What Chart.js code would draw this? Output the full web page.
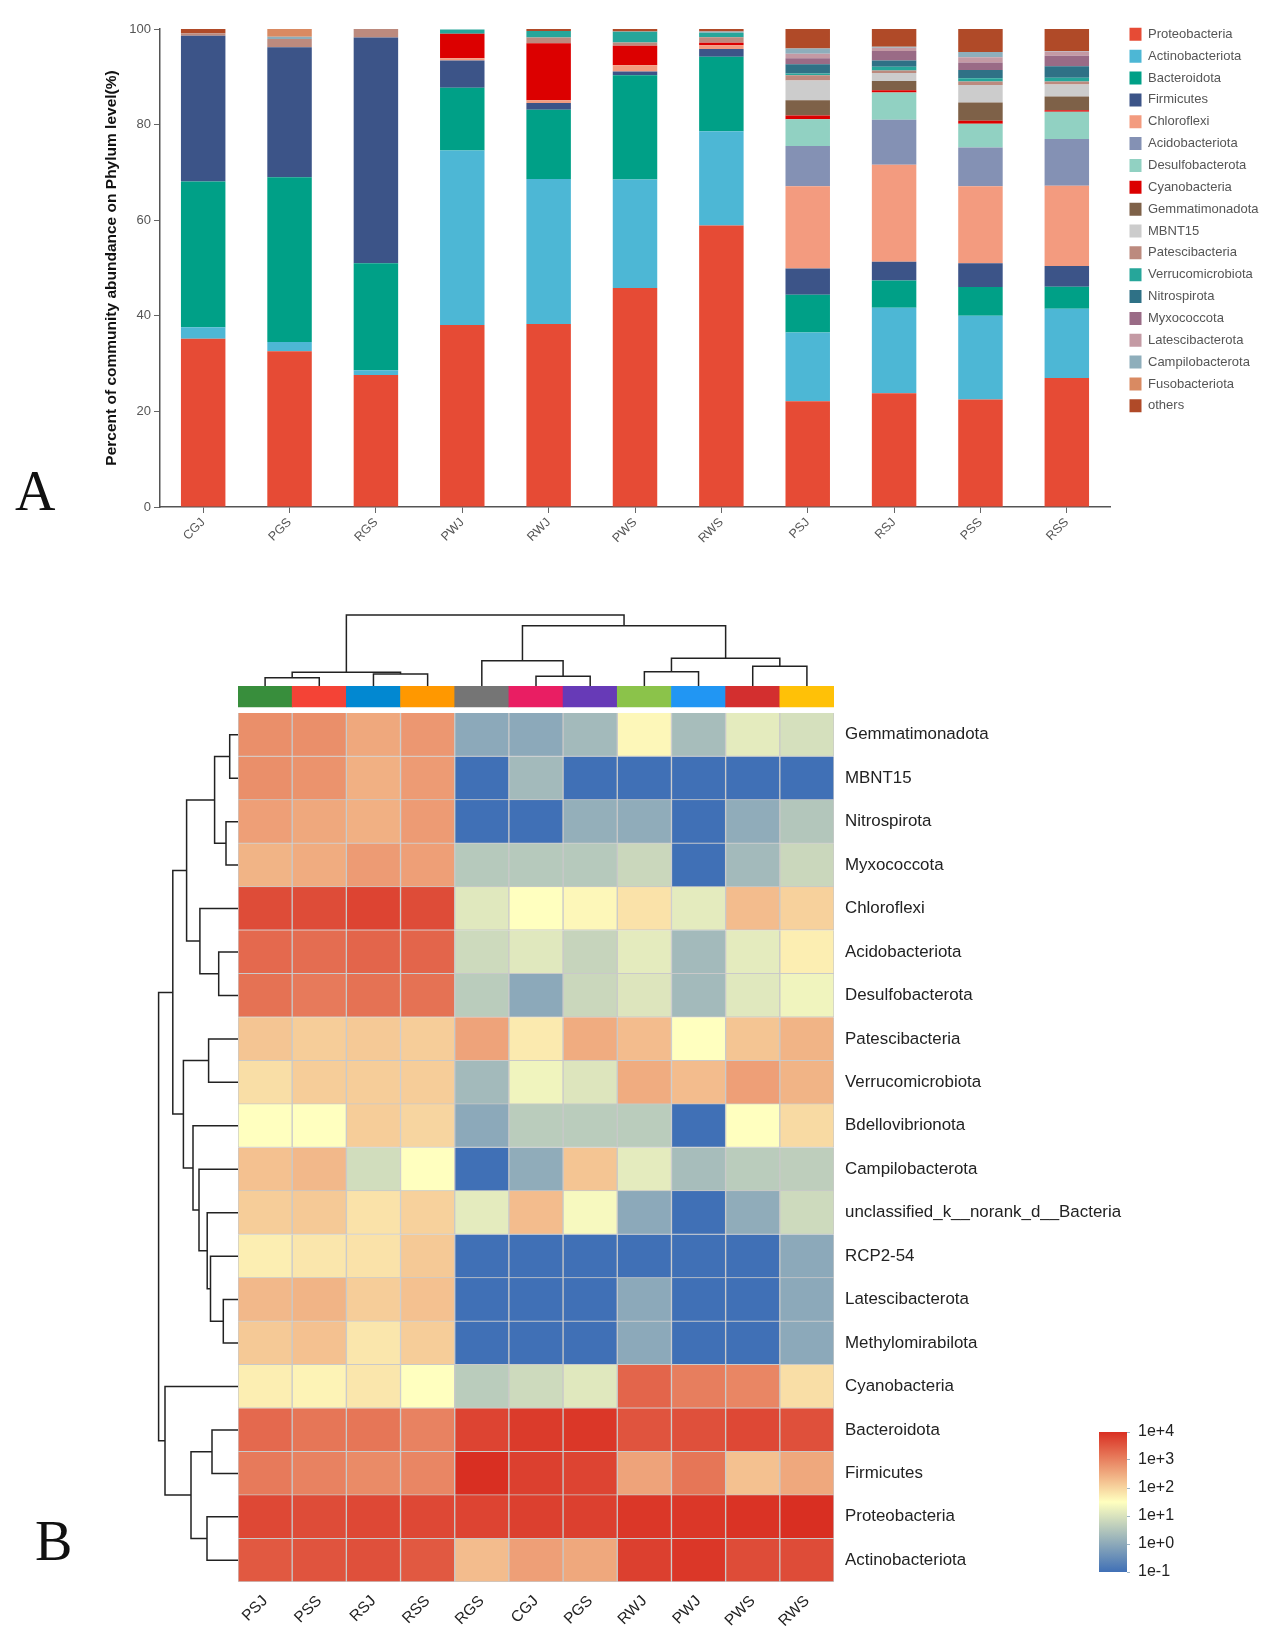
<!DOCTYPE html>
<html><head><meta charset="utf-8">
<script src="https://cdn.jsdelivr.net/npm/chart.js@4"></script>
<style>
html,body{margin:0;padding:0;background:#fff;width:1266px;height:1637px;overflow:hidden}
canvas{position:absolute;display:block}
.tag{position:absolute;font-family:"Liberation Serif",serif;font-size:56px;line-height:56px;color:#111}
</style></head><body>
<div class="tag" style="left:15px;top:463px">A</div>
<div class="tag" style="left:35px;top:1513px">B</div>
<canvas id="bars" width="1266" height="560" style="left:0;top:0"></canvas>
<canvas id="dTop" width="596" height="80" style="left:238px;top:606px"></canvas>
<canvas id="dLeft" width="90" height="869" style="left:148px;top:713px"></canvas>
<canvas id="heat" width="1058" height="951" style="left:208px;top:686px"></canvas>
<canvas id="cbar" width="110" height="162" style="left:1099px;top:1420px"></canvas>
<script>
const FONT='"Liberation Sans", Arial, sans-serif';
// ---------- Panel A ----------
const samplesA=['CGJ','PGS','RGS','PWJ','RWJ','PWS','RWS','PSJ','RSJ','PSS','RSS'];
const Proteobacteria=[35.2,32.6,27.6,38.1,38.3,45.8,58.9,22.1,23.8,22.5,27.0];
const Actinobacteriota=[2.4,1.9,1.0,36.5,30.3,22.7,19.7,14.4,17.9,17.5,14.5];
const Bacteroidota=[30.5,34.5,22.4,13.1,14.5,21.8,15.6,7.9,5.7,6.0,4.6];
const Firmicutes=[30.5,27.2,47.2,5.7,1.4,0.8,1.6,5.5,3.9,5.0,4.3];
const Chloroflexi=[0,0,0,0.5,0.6,1.3,0.8,17.2,20.3,16.1,16.8];
const Acidobacteriota=[0,0,0,0,0,0,0,8.4,9.4,8.1,9.8];
const Desulfobacterota=[0,0,0,0,0,0,0,5.6,5.7,5.0,5.7];
const Cyanobacteria=[0,0,0,5.1,11.9,4.1,0.5,0.8,0.5,0.6,0.3];
const Gemmatimonadota=[0,0,0,0,0,0,0,3.2,1.9,3.8,2.9];
const MBNT15=[0,0,0,0,0,0,0,4.1,1.7,3.7,2.5];
const Patescibacteria=[0.5,1.7,1.9,0,1.2,0.7,1.2,1.1,0.5,0.7,0.6];
const Verrucomicrobiota=[0,0,0,0.9,1.4,2.2,0.9,0.4,0.8,0.7,0.8];
const Nitrospirota=[0,0,0,0,0,0,0,1.9,1.3,1.7,2.4];
const Myxococcota=[0,0,0,0,0,0,0,1.3,2.0,1.6,2.2];
const Latescibacterota=[0,0,0,0,0,0,0,0.9,0.7,1.1,0.9];
const Campilobacterota=[0,0.5,0,0,0,0.1,0.3,1.1,0.2,1.1,0.1];
const Fusobacteriota=[0,1.6,0,0,0,0,0,0,0,0,0];
const others=[0.9,0.2,0,0,0.4,0.5,0.5,4.1,3.9,4.8,4.6];
const phylaNames=['Proteobacteria','Actinobacteriota','Bacteroidota','Firmicutes','Chloroflexi','Acidobacteriota','Desulfobacterota','Cyanobacteria','Gemmatimonadota','MBNT15','Patescibacteria','Verrucomicrobiota','Nitrospirota','Myxococcota','Latescibacterota','Campilobacterota','Fusobacteriota','others'];
const phylaValues=[Proteobacteria,Actinobacteriota,Bacteroidota,Firmicutes,Chloroflexi,Acidobacteriota,Desulfobacterota,Cyanobacteria,Gemmatimonadota,MBNT15,Patescibacteria,Verrucomicrobiota,Nitrospirota,Myxococcota,Latescibacterota,Campilobacterota,Fusobacteriota,others];
const phylaColors=['#e64b35','#4db7d5','#00a087','#3c5488','#f39b7f','#8491b4','#91d1c2','#dc0000','#7e6148','#cccccc','#bc8a7e','#26a69a','#2f7186','#9a6b86','#c49aa4','#8eaebb','#d98a62','#b04a28'];
const yTicksA=[0,20,40,60,80,100];

// ---------- Panel B ----------
const samplesB=['PSJ','PSS','RSJ','RSS','RGS','CGJ','PGS','RWJ','PWJ','PWS','RWS'];
const sampleColors=['#388e3c','#f44336','#0288d1','#ff9800','#757575','#e91e63','#673ab7','#8bc34a','#2196f3','#d32f2f','#ffc107'];
const rowNames=['Gemmatimonadota','MBNT15','Nitrospirota','Myxococcota','Chloroflexi','Acidobacteriota','Desulfobacterota','Patescibacteria','Verrucomicrobiota','Bdellovibrionota','Campilobacterota','unclassified_k__norank_d__Bacteria','RCP2-54','Latescibacterota','Methylomirabilota','Cyanobacteria','Bacteroidota','Firmicutes','Proteobacteria','Actinobacteriota'];
// log10 abundance of every heat-map cell, one line per row
const heatLog10=[
[2.85,2.85,2.55,2.75,0,0,0.3,1.6,0.35,1.15,0.95],
[2.85,2.8,2.45,2.7,-1,0.3,-1,-1,-1,-1,-1],
[2.65,2.55,2.45,2.7,-1,-1,0.1,0.05,-1,0.05,0.5],
[2.4,2.5,2.7,2.65,0.55,0.55,0.55,0.8,-1,0.3,0.8],
[3.65,3.65,3.75,3.65,1.1,1.5,1.6,1.85,1.15,2.3,2.05],
[3.3,3.25,3.35,3.35,0.85,1.1,0.75,1.15,0.3,1.15,1.7],
[3.2,3.1,3.2,3.2,0.6,0,0.8,1.05,0.3,1.1,1.3],
[2.2,2.1,2.15,2.1,2.6,1.75,2.5,2.3,1.5,2.2,2.4],
[1.9,2.1,2.1,2.1,0.3,1.3,1.05,2.5,2.3,2.65,2.4],
[1.5,1.5,2.1,2.0,0,0.6,0.6,0.6,-1,1.5,1.95],
[2.25,2.35,0.9,1.5,-1,0.05,2.2,1.15,0.35,0.6,0.65],
[2.1,2.15,1.85,2.05,1.15,2.3,1.4,0,-1,0.05,0.85],
[1.7,1.8,1.85,2.15,-1,-1,-1,-1,-1,-1,0],
[2.35,2.4,2.1,2.25,-1,-1,-1,0,-1,-1,0],
[2.15,2.25,1.8,2.1,-1,-1,-1,0,-1,-1,0],
[1.7,1.65,1.8,1.5,0.6,0.85,1.1,3.35,3.05,2.95,1.9],
[3.3,3.15,3.15,3.0,3.75,3.85,3.9,3.55,3.6,3.7,3.6],
[3.1,3.0,2.9,2.95,4,3.8,3.75,2.6,3.15,2.25,2.55],
[3.7,3.65,3.7,3.7,3.75,3.8,3.8,3.9,3.9,3.95,4],
[3.5,3.55,3.6,3.5,2.3,2.65,2.55,3.8,3.9,3.65,3.65]];
const colorStops=[[-1,'#4070b6'],[1.5,'#ffffbf'],[4,'#d92f22']];
const colorbarTicks=[0.1,1,10,100,1000,10000];
// dendrogram merges: [position A, height A, position B, height B, merge height]
const topMerges=[[0.5,0,1.5,0,8.3],[2.5,0,3.5,0,12],[1,8.3,3,12,13.7],[5.5,0,6.5,0,9.7],[4.5,0,6,9.7,25.3],[7.5,0,8.5,0,14.3],[9.5,0,10.5,0,19.7],[8,14.3,10,19.7,27.7],[5.25,25.3,9,27.7,60.3],[2,13.7,7.125,60.3,71]];
const leftMerges=[[0.5,0,1.5,0,8.3],[2.5,0,3.5,0,12],[1,8.3,3,12,23.4],[5.5,0,6.5,0,19.3],[4.5,0,6,19.3,38.1],[2,23.4,5.25,38.1,51.4],[7.5,0,8.5,0,29.4],[13.5,0,14.5,0,14.7],[12.5,0,14,14.7,27.5],[11.5,0,13.25,27.5,30.8],[10.5,0,12.375,30.8,39],[9.5,0,11.44,39,45],[8,29.4,10.47,45,54.6],[3.625,51.4,9.23,54.6,65.2],[16.5,0,17.5,0,26],[18.5,0,19.5,0,31],[17,26,19,31,47],[15.5,0,18,47,73],[6.43,65.2,16.75,73,79.4]];

function hex(c){return [1,3,5].map(i=>parseInt(c.substr(i,2),16));}
function heatColor(v){
  let i=0; while(i<colorStops.length-2 && v>colorStops[i+1][0]) i++;
  const [a,ca]=colorStops[i],[b,cb]=colorStops[i+1];
  const t=Math.min(1,Math.max(0,(v-a)/(b-a))),A=hex(ca),B=hex(cb);
  return 'rgb('+A.map((x,k)=>Math.round(x+(B[k]-x)*t)).join(',')+')';
}
Chart.defaults.animation=false;
Chart.defaults.responsive=false;
Chart.defaults.devicePixelRatio=1;
Chart.defaults.font.family=FONT;

// ---- stacked bars
const barLegendPlugin={id:'barLegendPos',afterLayout(c){const l=c.legend;l.left=1129.5-l.options.labels.padding;l.top=19;l.right=1266;l.bottom=560;}};
const barChart=new Chart(document.getElementById('bars'),{
  type:'bar',
  data:{labels:samplesA,datasets:phylaNames.map((n,i)=>({label:n,data:phylaValues[i],backgroundColor:phylaColors[i],borderWidth:0,barPercentage:0.515,categoryPercentage:1}))},
  plugins:[barLegendPlugin],
  options:{
    layout:{padding:{top:29,left:0,right:4,bottom:0}},
    plugins:{tooltip:{enabled:false},
      legend:{position:'right',align:'start',labels:{boxWidth:12,boxHeight:13,padding:8.85,color:'#555',font:{size:13,family:FONT}}}},
    scales:{
      x:{stacked:true,
        grid:{display:true,offset:false,drawOnChartArea:false,tickLength:6,tickColor:'#666',tickWidth:1},
        border:{color:'#555',width:1.5},
        ticks:{minRotation:45,maxRotation:45,autoSkip:false,padding:2,color:'#555',font:{size:12.5}},
        afterFit(s){s.height=53;s.paddingLeft=0;s.paddingRight=0;}},
      y:{stacked:true,min:0,max:100,
        afterBuildTicks(s){s.ticks=yTicksA.map(v=>({value:v}));},
        grid:{display:true,drawOnChartArea:false,tickLength:6,tickColor:'#666',tickWidth:1},
        border:{color:'#555',width:1.5},
        ticks:{padding:3,color:'#555',font:{size:13}},
        title:{display:true,text:'Percent of community abundance on Phylum level(%)',color:'#111',font:{size:15.5,weight:'bold',family:FONT},padding:{top:102,bottom:0}},
        afterFit(s){s.width=160;s.paddingTop=0;s.paddingBottom=0;}}
    }
  }
});
barChart.options.layout.padding.right+=barChart.chartArea.right-1110;
barChart.update();

// ---- dendrograms
function mergeLines(merges,horizontalRoot){
  return merges.map(m=>{
    const [a,ha,b,hb,h]=m;
    const pts=horizontalRoot?[[a,ha],[a,h],[b,h],[b,hb]]:[[ha,a],[h,a],[h,b],[hb,b]];
    return {data:pts.map(p=>({x:p[0],y:p[1]})),showLine:true,borderColor:'#222',borderWidth:1.5,pointRadius:0,tension:0,clip:false,borderJoinStyle:'miter',fill:false};
  });
}
new Chart(document.getElementById('dTop'),{type:'scatter',data:{datasets:mergeLines(topMerges,true)},
  options:{plugins:{legend:{display:false},tooltip:{enabled:false}},
    scales:{x:{type:'linear',display:false,min:0,max:11},y:{type:'linear',display:false,min:0,max:80}}}});
new Chart(document.getElementById('dLeft'),{type:'scatter',data:{datasets:mergeLines(leftMerges,false)},
  options:{plugins:{legend:{display:false},tooltip:{enabled:false}},
    scales:{x:{type:'linear',display:false,min:0,max:90,reverse:true},y:{type:'linear',display:false,min:0,max:20,reverse:true}}}});

// ---- heat map: every cell is a floating bar spanning its row on the y scale
const stripTop=-0.6214, stripBottom=-0.1381;
const heatSets=[{label:'samples',data:samplesB.map(()=>[stripTop,stripBottom]),backgroundColor:sampleColors,borderWidth:0,barPercentage:1,categoryPercentage:1,grouped:false}]
 .concat(rowNames.map((n,r)=>({label:n,data:samplesB.map(()=>[r,r+1]),backgroundColor:heatLog10[r].map(heatColor),borderColor:'#c9c9c9',borderWidth:1,barPercentage:1,categoryPercentage:1,grouped:false})));
new Chart(document.getElementById('heat'),{
  type:'bar',
  data:{labels:samplesB,datasets:heatSets},
  options:{
    layout:{padding:{left:30,right:0,top:0,bottom:0}},
    plugins:{legend:{display:false},tooltip:{enabled:false}},
    scales:{
      x:{grid:{display:false},border:{display:false},
        ticks:{minRotation:45,maxRotation:45,autoSkip:false,padding:2,color:'#222',font:{size:15.5}},
        afterFit(s){s.height=55;s.paddingLeft=0;s.paddingRight=0;}},
      y:{position:'right',reverse:true,min:stripTop,max:20,
        afterBuildTicks(s){s.ticks=rowNames.map((_,i)=>({value:i+0.5}));},
        grid:{display:false},border:{display:false},
        ticks:{autoSkip:false,padding:3,color:'#222',font:{size:16.9},callback(v){return rowNames[Math.floor(v)];}},
        afterFit(s){s.width=432;s.paddingTop=0;s.paddingBottom=0;}}
    }
  }
});

// ---- colour bar on a log scale
new Chart(document.getElementById('cbar'),{
  type:'bar',
  data:{labels:[''],datasets:[{data:[[colorbarTicks[0],colorbarTicks[colorbarTicks.length-1]]],barPercentage:1,categoryPercentage:1,borderWidth:0,
    backgroundColor(ctx){
      const ca=ctx.chart.chartArea; if(!ca) return '#ccc';
      const g=ctx.chart.ctx.createLinearGradient(0,ca.bottom,0,ca.top);
      colorStops.forEach(s=>g.addColorStop((s[0]+1)/5,s[1]));
      return g;
    }}]},
  options:{
    layout:{padding:{top:12,bottom:10,left:0,right:0}},
    plugins:{legend:{display:false},tooltip:{enabled:false}},
    scales:{
      x:{display:false},
      y:{type:'logarithmic',position:'right',min:colorbarTicks[0],max:colorbarTicks[colorbarTicks.length-1],
        afterBuildTicks(s){s.ticks=colorbarTicks.map(v=>({value:v,major:true}));},
        grid:{display:true,drawOnChartArea:false,tickLength:3,tickColor:'#9fb6c6'},border:{display:false},
        ticks:{autoSkip:false,padding:8,color:'#222',font:{size:16},callback(v){const e=Math.round(Math.log10(v));return '1e'+(e<0?'-':'+')+Math.abs(e);}},
        afterFit(s){s.width=82;s.paddingTop=0;s.paddingBottom=0;}}
    }
  }
});
</script>
</body></html>
